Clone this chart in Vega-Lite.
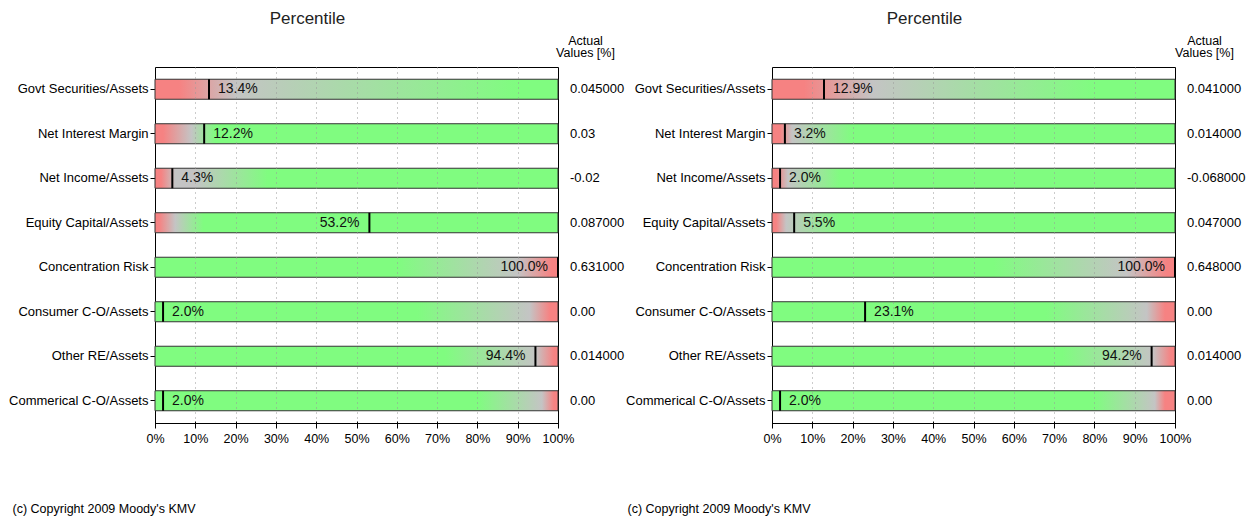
{
  "$schema": "https://vega.github.io/schema/vega-lite/v6.json",
  "background": "white",
  "padding": {"left": 8, "top": 9, "right": 5, "bottom": 5},
  "datasets": {
    "left": [
      {"metric": "Govt Securities/Assets", "pct": 0.134, "actual": "0.045000"},
      {"metric": "Net Interest Margin", "pct": 0.122, "actual": "0.03"},
      {"metric": "Net Income/Assets", "pct": 0.043, "actual": "-0.02"},
      {"metric": "Equity Capital/Assets", "pct": 0.532, "actual": "0.087000"},
      {"metric": "Concentration Risk", "pct": 1.0, "actual": "0.631000"},
      {"metric": "Consumer C-O/Assets", "pct": 0.02, "actual": "0.00"},
      {"metric": "Other RE/Assets", "pct": 0.944, "actual": "0.014000"},
      {"metric": "Commerical C-O/Assets", "pct": 0.02, "actual": "0.00"}
    ],
    "right": [
      {"metric": "Govt Securities/Assets", "pct": 0.129, "actual": "0.041000"},
      {"metric": "Net Interest Margin", "pct": 0.032, "actual": "0.014000"},
      {"metric": "Net Income/Assets", "pct": 0.02, "actual": "-0.068000"},
      {"metric": "Equity Capital/Assets", "pct": 0.055, "actual": "0.047000"},
      {"metric": "Concentration Risk", "pct": 1.0, "actual": "0.648000"},
      {"metric": "Consumer C-O/Assets", "pct": 0.231, "actual": "0.00"},
      {"metric": "Other RE/Assets", "pct": 0.942, "actual": "0.014000"},
      {"metric": "Commerical C-O/Assets", "pct": 0.02, "actual": "0.00"}
    ]
  },
  "spacing": 214,
  "bounds": "flush",
  "hconcat": [
    {
      "width": 403,
      "height": 356,
      "title": {"text": "Percentile", "dx": -49, "offset": 6},
      "data": {"name": "left"},
      "encoding": {
        "y": {
          "field": "metric", "type": "nominal", "sort": null,
          "scale": {"domain": ["Govt Securities/Assets", "Net Interest Margin", "Net Income/Assets", "Equity Capital/Assets", "Concentration Risk", "Consumer C-O/Assets", "Other RE/Assets", "Commerical C-O/Assets"], "paddingInner": 0.55, "paddingOuter": 0.275},
          "axis": {"title": ["Actual", "Values [%]"], "titleAngle": 0, "titleAlign": "center", "titleBaseline": "bottom", "titleX": 426, "titleY": -20, "titleFontSize": 12.5, "titleLineHeight": 12, "labelFontSize": 13, "tickSize": 9, "offset": -4, "labelPadding": 2, "domain": false, "grid": false}
        }
      },
      "layer": [
        {"transform": [{"filter": "datum.metric === 'Govt Securities/Assets'"}], "mark": {"type": "bar", "stroke": "#333", "strokeWidth": 1, "fill": {"gradient": "linear", "x1": 0, "y1": 0, "x2": 1, "y2": 0, "stops": [{"offset": 0, "color": "#f68282"}, {"offset": 0.06, "color": "#f68282"}, {"offset": 0.2, "color": "#c4c4c4"}, {"offset": 0.9, "color": "#80fc80"}, {"offset": 1, "color": "#80fc80"}]}}, "encoding": {"x": {"datum": 0, "type": "quantitative"}, "x2": {"datum": 1}}},
        {"transform": [{"filter": "datum.metric === 'Net Interest Margin'"}], "mark": {"type": "bar", "stroke": "#333", "strokeWidth": 1, "fill": {"gradient": "linear", "x1": 0, "y1": 0, "x2": 1, "y2": 0, "stops": [{"offset": 0, "color": "#f68282"}, {"offset": 0.02, "color": "#f68282"}, {"offset": 0.09, "color": "#c4c4c4"}, {"offset": 0.15, "color": "#80fc80"}, {"offset": 1, "color": "#80fc80"}]}}, "encoding": {"x": {"datum": 0, "type": "quantitative"}, "x2": {"datum": 1}}},
        {"transform": [{"filter": "datum.metric === 'Net Income/Assets'"}], "mark": {"type": "bar", "stroke": "#333", "strokeWidth": 1, "fill": {"gradient": "linear", "x1": 0, "y1": 0, "x2": 1, "y2": 0, "stops": [{"offset": 0, "color": "#f68282"}, {"offset": 0.015, "color": "#f68282"}, {"offset": 0.05, "color": "#c4c4c4"}, {"offset": 0.1, "color": "#c4c4c4"}, {"offset": 0.28, "color": "#80fc80"}, {"offset": 1, "color": "#80fc80"}]}}, "encoding": {"x": {"datum": 0, "type": "quantitative"}, "x2": {"datum": 1}}},
        {"transform": [{"filter": "datum.metric === 'Equity Capital/Assets'"}], "mark": {"type": "bar", "stroke": "#333", "strokeWidth": 1, "fill": {"gradient": "linear", "x1": 0, "y1": 0, "x2": 1, "y2": 0, "stops": [{"offset": 0, "color": "#f68282"}, {"offset": 0.01, "color": "#f68282"}, {"offset": 0.05, "color": "#c4c4c4"}, {"offset": 0.12, "color": "#80fc80"}, {"offset": 1, "color": "#80fc80"}]}}, "encoding": {"x": {"datum": 0, "type": "quantitative"}, "x2": {"datum": 1}}},
        {"transform": [{"filter": "datum.metric === 'Concentration Risk'"}], "mark": {"type": "bar", "stroke": "#333", "strokeWidth": 1, "fill": {"gradient": "linear", "x1": 0, "y1": 0, "x2": 1, "y2": 0, "stops": [{"offset": 0, "color": "#80fc80"}, {"offset": 0.6, "color": "#80fc80"}, {"offset": 0.9, "color": "#c4c4c4"}, {"offset": 0.985, "color": "#f68282"}, {"offset": 1, "color": "#f68282"}]}}, "encoding": {"x": {"datum": 0, "type": "quantitative"}, "x2": {"datum": 1}}},
        {"transform": [{"filter": "datum.metric === 'Consumer C-O/Assets'"}], "mark": {"type": "bar", "stroke": "#333", "strokeWidth": 1, "fill": {"gradient": "linear", "x1": 0, "y1": 0, "x2": 1, "y2": 0, "stops": [{"offset": 0, "color": "#80fc80"}, {"offset": 0.65, "color": "#80fc80"}, {"offset": 0.93, "color": "#c4c4c4"}, {"offset": 0.98, "color": "#f68282"}, {"offset": 1, "color": "#f68282"}]}}, "encoding": {"x": {"datum": 0, "type": "quantitative"}, "x2": {"datum": 1}}},
        {"transform": [{"filter": "datum.metric === 'Other RE/Assets'"}], "mark": {"type": "bar", "stroke": "#333", "strokeWidth": 1, "fill": {"gradient": "linear", "x1": 0, "y1": 0, "x2": 1, "y2": 0, "stops": [{"offset": 0, "color": "#80fc80"}, {"offset": 0.72, "color": "#80fc80"}, {"offset": 0.945, "color": "#c4c4c4"}, {"offset": 0.99, "color": "#f68282"}, {"offset": 1, "color": "#f68282"}]}}, "encoding": {"x": {"datum": 0, "type": "quantitative"}, "x2": {"datum": 1}}},
        {"transform": [{"filter": "datum.metric === 'Commerical C-O/Assets'"}], "mark": {"type": "bar", "stroke": "#333", "strokeWidth": 1, "fill": {"gradient": "linear", "x1": 0, "y1": 0, "x2": 1, "y2": 0, "stops": [{"offset": 0, "color": "#80fc80"}, {"offset": 0.8, "color": "#80fc80"}, {"offset": 0.96, "color": "#c4c4c4"}, {"offset": 0.99, "color": "#f68282"}, {"offset": 1, "color": "#f68282"}]}}, "encoding": {"x": {"datum": 0, "type": "quantitative"}, "x2": {"datum": 1}}},
        {
          "mark": {"type": "tick", "color": "#000", "thickness": 2, "size": 20, "opacity": 1},
          "encoding": {
            "x": {"field": "pct", "type": "quantitative", "scale": {"domain": [0, 1], "nice": false},
              "axis": {"values": [0, 0.05, 0.1, 0.15, 0.2, 0.25, 0.3, 0.35, 0.4, 0.45, 0.5, 0.55, 0.6, 0.65, 0.7, 0.75, 0.8, 0.85, 0.9, 0.95, 1],
                "labelExpr": "round(datum.value*100) % 10 === 0 ? round(datum.value*100) + '%' : ''",
                "labelFontSize": 12.5, "labelPadding": 4, "labelOverlap": false, "labelFlush": false,
                "tickSize": 7, "offset": -2, "domain": false,
                "grid": true, "gridDash": [1, 4], "gridColor": "#999",
                "gridOpacity": {"condition": {"test": "datum.value <= 0 || datum.value >= 1 || round(datum.value*100) % 10 !== 0", "value": 0}, "value": 1},
                "zindex": 1,
                "title": "(c) Copyright 2009 Moody's KMV", "titleFontSize": 12.5, "titleAnchor": "start", "titleAlign": "left", "titleBaseline": "middle", "titleX": -143, "titleY": 87}}
          }
        },
        {"transform": [{"filter": "datum.pct <= 0.5"}], "mark": {"type": "text", "align": "left", "baseline": "middle", "dx": 9, "fontSize": 14, "color": "#111"}, "encoding": {"x": {"field": "pct", "type": "quantitative"}, "text": {"field": "pct", "type": "quantitative", "format": ".1%"}}},
        {"transform": [{"filter": "datum.pct > 0.5"}], "mark": {"type": "text", "align": "right", "baseline": "middle", "dx": -10, "fontSize": 14, "color": "#111"}, "encoding": {"x": {"field": "pct", "type": "quantitative"}, "text": {"field": "pct", "type": "quantitative", "format": ".1%"}}},
        {"mark": {"type": "text", "align": "left", "baseline": "middle", "dx": 12, "fontSize": 13, "color": "#000"}, "encoding": {"x": {"datum": 1, "type": "quantitative"}, "text": {"field": "actual", "type": "nominal"}}}
      ]
    },
    {
      "width": 403,
      "height": 356,
      "title": {"text": "Percentile", "dx": -49, "offset": 6},
      "data": {"name": "right"},
      "encoding": {
        "y": {
          "field": "metric", "type": "nominal", "sort": null,
          "scale": {"domain": ["Govt Securities/Assets", "Net Interest Margin", "Net Income/Assets", "Equity Capital/Assets", "Concentration Risk", "Consumer C-O/Assets", "Other RE/Assets", "Commerical C-O/Assets"], "paddingInner": 0.55, "paddingOuter": 0.275},
          "axis": {"title": ["Actual", "Values [%]"], "titleAngle": 0, "titleAlign": "center", "titleBaseline": "bottom", "titleX": 428, "titleY": -20, "titleFontSize": 12.5, "titleLineHeight": 12, "labelFontSize": 13, "tickSize": 9, "offset": -4, "labelPadding": 2, "domain": false, "grid": false}
        }
      },
      "layer": [
        {"transform": [{"filter": "datum.metric === 'Govt Securities/Assets'"}], "mark": {"type": "bar", "stroke": "#333", "strokeWidth": 1, "fill": {"gradient": "linear", "x1": 0, "y1": 0, "x2": 1, "y2": 0, "stops": [{"offset": 0, "color": "#f68282"}, {"offset": 0.08, "color": "#f68282"}, {"offset": 0.25, "color": "#c4c4c4"}, {"offset": 0.8, "color": "#80fc80"}, {"offset": 1, "color": "#80fc80"}]}}, "encoding": {"x": {"datum": 0, "type": "quantitative"}, "x2": {"datum": 1}}},
        {"transform": [{"filter": "datum.metric === 'Net Interest Margin'"}], "mark": {"type": "bar", "stroke": "#333", "strokeWidth": 1, "fill": {"gradient": "linear", "x1": 0, "y1": 0, "x2": 1, "y2": 0, "stops": [{"offset": 0, "color": "#f68282"}, {"offset": 0.02, "color": "#f68282"}, {"offset": 0.05, "color": "#c4c4c4"}, {"offset": 0.2, "color": "#80fc80"}, {"offset": 1, "color": "#80fc80"}]}}, "encoding": {"x": {"datum": 0, "type": "quantitative"}, "x2": {"datum": 1}}},
        {"transform": [{"filter": "datum.metric === 'Net Income/Assets'"}], "mark": {"type": "bar", "stroke": "#333", "strokeWidth": 1, "fill": {"gradient": "linear", "x1": 0, "y1": 0, "x2": 1, "y2": 0, "stops": [{"offset": 0, "color": "#f68282"}, {"offset": 0.012, "color": "#f68282"}, {"offset": 0.04, "color": "#c4c4c4"}, {"offset": 0.17, "color": "#80fc80"}, {"offset": 1, "color": "#80fc80"}]}}, "encoding": {"x": {"datum": 0, "type": "quantitative"}, "x2": {"datum": 1}}},
        {"transform": [{"filter": "datum.metric === 'Equity Capital/Assets'"}], "mark": {"type": "bar", "stroke": "#333", "strokeWidth": 1, "fill": {"gradient": "linear", "x1": 0, "y1": 0, "x2": 1, "y2": 0, "stops": [{"offset": 0, "color": "#f68282"}, {"offset": 0.01, "color": "#f68282"}, {"offset": 0.035, "color": "#c4c4c4"}, {"offset": 0.17, "color": "#80fc80"}, {"offset": 1, "color": "#80fc80"}]}}, "encoding": {"x": {"datum": 0, "type": "quantitative"}, "x2": {"datum": 1}}},
        {"transform": [{"filter": "datum.metric === 'Concentration Risk'"}], "mark": {"type": "bar", "stroke": "#333", "strokeWidth": 1, "fill": {"gradient": "linear", "x1": 0, "y1": 0, "x2": 1, "y2": 0, "stops": [{"offset": 0, "color": "#80fc80"}, {"offset": 0.55, "color": "#80fc80"}, {"offset": 0.88, "color": "#c4c4c4"}, {"offset": 0.98, "color": "#f68282"}, {"offset": 1, "color": "#f68282"}]}}, "encoding": {"x": {"datum": 0, "type": "quantitative"}, "x2": {"datum": 1}}},
        {"transform": [{"filter": "datum.metric === 'Consumer C-O/Assets'"}], "mark": {"type": "bar", "stroke": "#333", "strokeWidth": 1, "fill": {"gradient": "linear", "x1": 0, "y1": 0, "x2": 1, "y2": 0, "stops": [{"offset": 0, "color": "#80fc80"}, {"offset": 0.68, "color": "#80fc80"}, {"offset": 0.93, "color": "#c4c4c4"}, {"offset": 0.975, "color": "#f68282"}, {"offset": 1, "color": "#f68282"}]}}, "encoding": {"x": {"datum": 0, "type": "quantitative"}, "x2": {"datum": 1}}},
        {"transform": [{"filter": "datum.metric === 'Other RE/Assets'"}], "mark": {"type": "bar", "stroke": "#333", "strokeWidth": 1, "fill": {"gradient": "linear", "x1": 0, "y1": 0, "x2": 1, "y2": 0, "stops": [{"offset": 0, "color": "#80fc80"}, {"offset": 0.72, "color": "#80fc80"}, {"offset": 0.945, "color": "#c4c4c4"}, {"offset": 0.99, "color": "#f68282"}, {"offset": 1, "color": "#f68282"}]}}, "encoding": {"x": {"datum": 0, "type": "quantitative"}, "x2": {"datum": 1}}},
        {"transform": [{"filter": "datum.metric === 'Commerical C-O/Assets'"}], "mark": {"type": "bar", "stroke": "#333", "strokeWidth": 1, "fill": {"gradient": "linear", "x1": 0, "y1": 0, "x2": 1, "y2": 0, "stops": [{"offset": 0, "color": "#80fc80"}, {"offset": 0.8, "color": "#80fc80"}, {"offset": 0.95, "color": "#c4c4c4"}, {"offset": 0.975, "color": "#f68282"}, {"offset": 1, "color": "#f68282"}]}}, "encoding": {"x": {"datum": 0, "type": "quantitative"}, "x2": {"datum": 1}}},
        {
          "mark": {"type": "tick", "color": "#000", "thickness": 2, "size": 20, "opacity": 1},
          "encoding": {
            "x": {"field": "pct", "type": "quantitative", "scale": {"domain": [0, 1], "nice": false},
              "axis": {"values": [0, 0.05, 0.1, 0.15, 0.2, 0.25, 0.3, 0.35, 0.4, 0.45, 0.5, 0.55, 0.6, 0.65, 0.7, 0.75, 0.8, 0.85, 0.9, 0.95, 1],
                "labelExpr": "round(datum.value*100) % 10 === 0 ? round(datum.value*100) + '%' : ''",
                "labelFontSize": 12.5, "labelPadding": 4, "labelOverlap": false, "labelFlush": false,
                "tickSize": 7, "offset": -2, "domain": false,
                "grid": true, "gridDash": [1, 4], "gridColor": "#999",
                "gridOpacity": {"condition": {"test": "datum.value <= 0 || datum.value >= 1 || round(datum.value*100) % 10 !== 0", "value": 0}, "value": 1},
                "zindex": 1,
                "title": "(c) Copyright 2009 Moody's KMV", "titleFontSize": 12.5, "titleAnchor": "start", "titleAlign": "left", "titleBaseline": "middle", "titleX": -145, "titleY": 87}}
          }
        },
        {"transform": [{"filter": "datum.pct <= 0.5"}], "mark": {"type": "text", "align": "left", "baseline": "middle", "dx": 9, "fontSize": 14, "color": "#111"}, "encoding": {"x": {"field": "pct", "type": "quantitative"}, "text": {"field": "pct", "type": "quantitative", "format": ".1%"}}},
        {"transform": [{"filter": "datum.pct > 0.5"}], "mark": {"type": "text", "align": "right", "baseline": "middle", "dx": -10, "fontSize": 14, "color": "#111"}, "encoding": {"x": {"field": "pct", "type": "quantitative"}, "text": {"field": "pct", "type": "quantitative", "format": ".1%"}}},
        {"mark": {"type": "text", "align": "left", "baseline": "middle", "dx": 12, "fontSize": 13, "color": "#000"}, "encoding": {"x": {"datum": 1, "type": "quantitative"}, "text": {"field": "actual", "type": "nominal"}}}
      ]
    }
  ],
  "config": {
    "font": "Liberation Sans",
    "view": {"stroke": "#000", "strokeWidth": 1},
    "axis": {"labelFont": "Liberation Sans", "titleFont": "Liberation Sans", "labelColor": "#000", "titleColor": "#000", "titleFontWeight": "normal", "tickColor": "#000"},
    "title": {"font": "Liberation Sans", "fontSize": 17, "fontWeight": "normal", "color": "#222"},
    "text": {"font": "Liberation Sans"}
  }
}
